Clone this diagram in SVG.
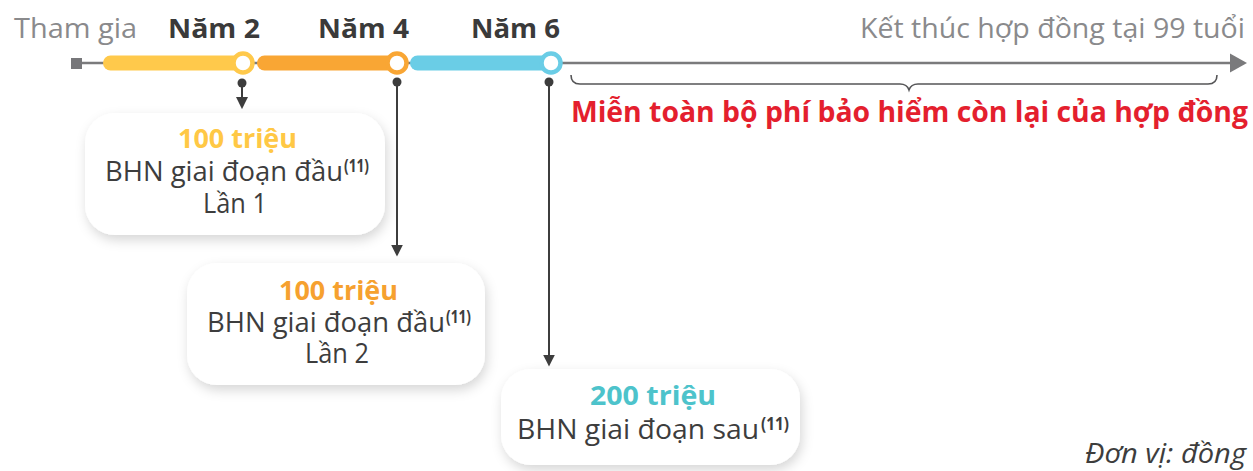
<svg xmlns="http://www.w3.org/2000/svg" width="1253" height="471" viewBox="0 0 1253 471">
<defs>
<style>
text{font-family:"Open Sans","Noto Sans","Liberation Sans",sans-serif}
.hdr{font-size:27px;fill:#8a8a8c}
.yr{font-size:27px;font-weight:700;fill:#3a3a3a}
.amt{font-size:27px;font-weight:700;text-anchor:middle}
.body{font-size:27px;fill:#3d3d3d}
.sup{font-size:17px;font-weight:700;fill:#3d3d3d}
.red{font-size:28px;font-weight:700;fill:#e41f2e}
.card{fill:#ffffff}
.conn{stroke:#3d3d3d;stroke-width:2;fill:none}
.dot{fill:#3d3d3d}
.ring{fill:#ffffff;stroke-width:4.5}
</style>
<filter id="sh" x="-20%" y="-30%" width="140%" height="170%">
<feDropShadow dx="2" dy="5" stdDeviation="6" flood-color="#000000" flood-opacity="0.16"/>
</filter>
<marker id="ah" viewBox="0 0 10 10" refX="2" refY="5" markerWidth="12" markerHeight="12" markerUnits="userSpaceOnUse" orient="auto">
<path d="M0,0 L10,5 L0,10 z" fill="#3d3d3d"/>
</marker>
</defs>
<rect width="1253" height="471" fill="#ffffff"/>

<g id="timeline">
<text class="hdr" x="14" y="38" textLength="123" lengthAdjust="spacingAndGlyphs">Tham gia</text>
<text class="yr" x="168" y="38" textLength="92" lengthAdjust="spacingAndGlyphs">Năm 2</text>
<text class="yr" x="318" y="38" textLength="91" lengthAdjust="spacingAndGlyphs">Năm 4</text>
<text class="yr" x="471" y="38" textLength="89" lengthAdjust="spacingAndGlyphs">Năm 6</text>
<text class="hdr" x="860" y="38" textLength="385" lengthAdjust="spacingAndGlyphs">Kết thúc hợp đồng tại 99 tuổi</text>
<line x1="76" y1="63" x2="1233" y2="63" stroke="#7a7a7c" stroke-width="2.5"/>
<polygon points="1230,53.5 1247,63 1230,72.5" fill="#7a7a7c"/>
<rect x="71" y="58" width="11" height="11" fill="#77777a"/>
<rect x="103" y="55.5" width="140" height="15" rx="7.5" fill="#ffc94b"/>
<rect x="257" y="55.5" width="140" height="15" rx="7.5" fill="#f9a634"/>
<rect x="410" y="55.5" width="141" height="15" rx="7.5" fill="#6acde6"/>
<circle class="ring" cx="243" cy="63" r="9.5" stroke="#ffc94b"/>
<circle class="ring" cx="397" cy="63" r="9.5" stroke="#f9a634"/>
<circle class="ring" cx="551" cy="63" r="9.5" stroke="#6acde6"/>
</g>

<g id="exemption">
<path d="M571,75 Q571,84 580,84 L900,84 Q907,84 909,90 Q911,84 918,84 L1208,84 Q1217,84 1217,75" fill="none" stroke="#555557" stroke-width="1.6"/>
<text class="red" x="571" y="122" textLength="677" lengthAdjust="spacingAndGlyphs">Miễn toàn bộ phí bảo hiểm còn lại của hợp đồng</text>
</g>

<g id="connectors">
<circle class="dot" cx="242" cy="83" r="4.5"/>
<line class="conn" x1="242" y1="83" x2="242" y2="99.5" marker-end="url(#ah)"/>
<circle class="dot" cx="397" cy="82" r="4.5"/>
<line class="conn" x1="397" y1="82" x2="397" y2="247" marker-end="url(#ah)"/>
<circle class="dot" cx="549" cy="82" r="4.5"/>
<line class="conn" x1="549" y1="82" x2="549" y2="357" marker-end="url(#ah)"/>
</g>

<g id="node1">
<rect class="card" x="85" y="113" width="300" height="122" rx="30" filter="url(#sh)"/>
<text class="amt" x="237.5" y="148" fill="#ffc845" textLength="119" lengthAdjust="spacingAndGlyphs">100 triệu</text>
<text class="body" x="105" y="181" textLength="238" lengthAdjust="spacingAndGlyphs">BHN giai đoạn đầu</text>
<text class="sup" x="344" y="172" textLength="25" lengthAdjust="spacingAndGlyphs">(11)</text>
<text class="body" x="203" y="213" textLength="64" lengthAdjust="spacingAndGlyphs">Lần 1</text>
</g>

<g id="node2">
<rect class="card" x="187" y="263" width="298" height="122" rx="30" filter="url(#sh)"/>
<text class="amt" x="338.5" y="300" fill="#f6a12f" textLength="119" lengthAdjust="spacingAndGlyphs">100 triệu</text>
<text class="body" x="207" y="332" textLength="238" lengthAdjust="spacingAndGlyphs">BHN giai đoạn đầu</text>
<text class="sup" x="446" y="323" textLength="25" lengthAdjust="spacingAndGlyphs">(11)</text>
<text class="body" x="305" y="363" textLength="64" lengthAdjust="spacingAndGlyphs">Lần 2</text>
</g>

<g id="node3">
<rect class="card" x="501" y="369" width="299" height="96" rx="30" filter="url(#sh)"/>
<text class="amt" x="653" y="405" fill="#4dc3cb" textLength="126" lengthAdjust="spacingAndGlyphs">200 triệu</text>
<text class="body" x="517" y="439" textLength="242" lengthAdjust="spacingAndGlyphs">BHN giai đoạn sau</text>
<text class="sup" x="761" y="430" textLength="28" lengthAdjust="spacingAndGlyphs">(11)</text>
</g>

<g id="unit">
<text x="1085" y="463" font-size="27" font-style="italic" fill="#3d3d3d" textLength="161" lengthAdjust="spacingAndGlyphs">Đơn vị: đồng</text>
</g>
</svg>
